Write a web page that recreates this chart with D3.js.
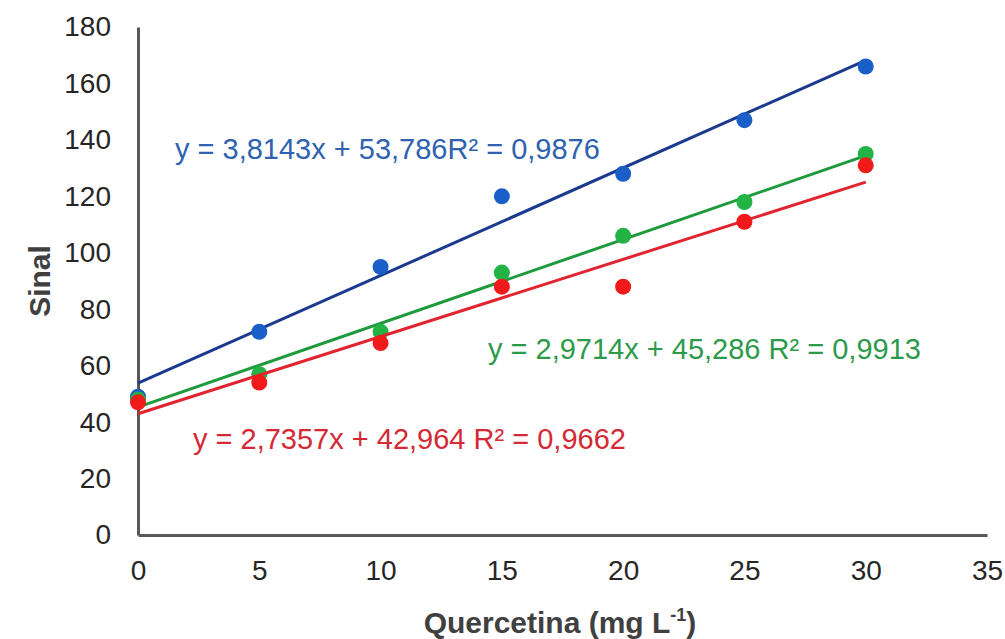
<!DOCTYPE html>
<html>
<head>
<meta charset="utf-8">
<script src="https://cdn.jsdelivr.net/npm/d3@7"></script>
<style>
  body { margin: 0; background: #fff; }
  svg { font-family: "Liberation Sans", Arial, sans-serif; }
</style>
</head>
<body>
<div id="chart"></div>
<script>
// data
var concentrations = [0, 5, 10, 15, 20, 25, 30];
var blueSignal  = [49, 72, 95, 120, 128, 147, 166];
var greenSignal = [48, 57, 72, 93, 106, 118, 135];
var redSignal   = [47, 54, 68, 88, 88, 111, 131];

// trend line coefficients as printed on the chart
var slopes     = [3.8143, 2.9714, 2.7357];
var intercepts = [53.786, 45.286, 42.964];
var equations  = [
  "y = 3,8143x + 53,786R² = 0,9876",
  "y = 2,9714x + 45,286 R² = 0,9913",
  "y = 2,7357x + 42,964 R² = 0,9662"
];

var xTicks = [0, 5, 10, 15, 20, 25, 30, 35];
var yTicks = [0, 20, 40, 60, 80, 100, 120, 140, 160, 180];

var w = 1005, h = 639;
var margin = { top: 27, right: 18, bottom: 104, left: 138 };
var width = w - margin.left - margin.right;
var height = h - margin.top - margin.bottom;

var svg = d3.select("#chart")
  .append("svg")
  .attr("width", w)
  .attr("height", h);

var chartGroup = svg.append("g")
  .attr("transform", `translate(${margin.left}, ${margin.top})`);

var xScale = d3.scaleLinear().domain([0, 35]).range([0, width]);
var yScale = d3.scaleLinear().domain([0, 180]).range([height, 0]);

// axes, no tick marks
var bottomAxis = d3.axisBottom(xScale).tickValues(xTicks).tickSize(0).tickPadding(25);
var leftAxis = d3.axisLeft(yScale).tickValues(yTicks).tickSize(0).tickPadding(27);

var xAxis = chartGroup.append("g")
  .attr("transform", `translate(0, ${height})`)
  .call(bottomAxis);
var yAxis = chartGroup.append("g").call(leftAxis);

[xAxis, yAxis].forEach(function(ax) {
  ax.select(".domain").attr("stroke", "#595959").attr("stroke-width", 3);
  ax.selectAll("text")
    .attr("font-size", 28)
    .attr("font-family", "'Liberation Sans', Arial, sans-serif")
    .attr("fill", "#262626");
});

// axis titles
svg.append("text")
  .attr("transform", "rotate(-90)")
  .attr("x", -281)
  .attr("y", 50)
  .attr("text-anchor", "middle")
  .attr("font-size", 30)
  .attr("font-weight", "bold")
  .attr("fill", "#404040")
  .text("Sinal");

var xTitle = svg.append("text")
  .attr("x", 560)
  .attr("y", 633)
  .attr("text-anchor", "middle")
  .attr("font-size", 30)
  .attr("font-weight", "bold")
  .attr("fill", "#404040");
xTitle.append("tspan").text("Quercetina (mg L");
xTitle.append("tspan").attr("font-size", 18).attr("dy", -12).text("-1");
xTitle.append("tspan").attr("dy", 12).text(")");

var series = [
  { values: blueSignal,  line: "#1b3a8f", point: "#1a5fc8", text: "#2f62b0" },
  { values: greenSignal, line: "#1e9a3c", point: "#22b344", text: "#2d9a4b" },
  { values: redSignal,   line: "#e02430", point: "#f01a1a", text: "#d42a35" }
];
var labelPos = [[175, 159], [488, 359], [193, 449]];

series.forEach(function(s, i) {
  var pts = concentrations.map(function(c, j) { return [c, s.values[j]]; });
  var ends = [0, 30];

  chartGroup.append("line")
    .attr("x1", xScale(ends[0]))
    .attr("y1", yScale(intercepts[i] + slopes[i] * ends[0]))
    .attr("x2", xScale(ends[1]))
    .attr("y2", yScale(intercepts[i] + slopes[i] * ends[1]))
    .attr("stroke", s.line)
    .attr("stroke-width", 3);

  chartGroup.selectAll("circle.s" + i)
    .data(pts)
    .enter()
    .append("circle")
    .attr("class", "s" + i)
    .attr("cx", d => xScale(d[0]))
    .attr("cy", d => yScale(d[1]))
    .attr("r", 8)
    .attr("fill", s.point);

  svg.append("text")
    .attr("x", labelPos[i][0])
    .attr("y", labelPos[i][1])
    .attr("font-size", 29)
    .attr("fill", s.text)
    .text(equations[i]);
});
</script>
</body>
</html>
